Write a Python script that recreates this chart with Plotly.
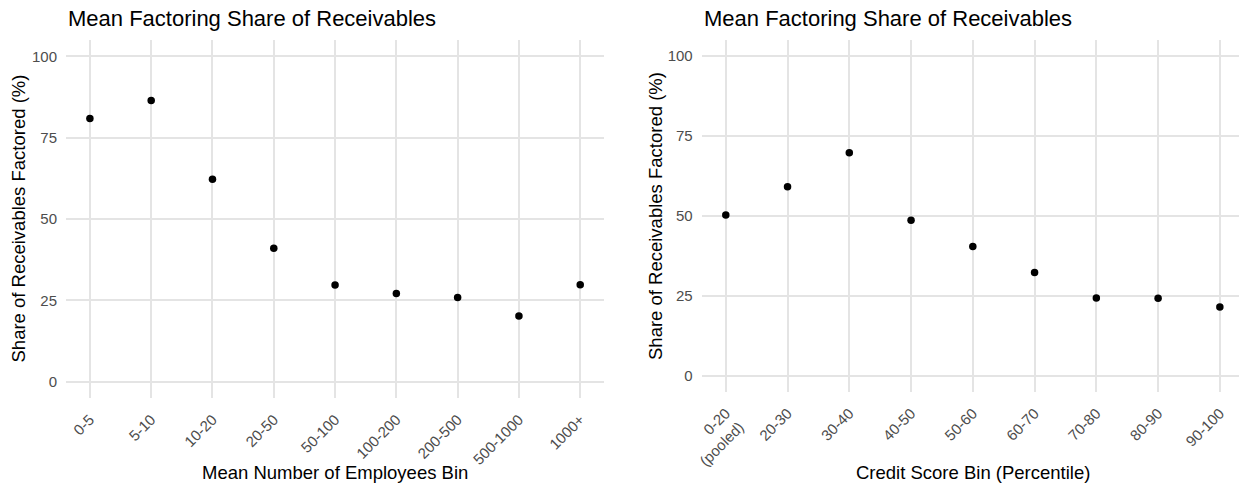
import plotly.graph_objects as go

# left panel: employees bins
emp_bins = ["0-5", "5-10", "10-20", "20-50", "50-100", "100-200", "200-500", "500-1000", "1000+"]
emp_share = [80.9, 86.4, 62.2, 41.0, 29.7, 27.1, 25.9, 20.2, 29.8]

# right panel: credit score bins
credit_bins = ["0-20<br>(pooled)", "20-30", "30-40", "40-50", "50-60", "60-70", "70-80", "80-90", "90-100"]
credit_share = [50.3, 59.1, 69.7, 48.6, 40.4, 32.3, 24.3, 24.2, 21.5]

y_ticks = [0, 25, 50, 75, 100]

W, H = 1239, 485
FONT = "Liberation Sans, Arial, sans-serif"
GRID = "#e4e4e4"

fig = go.Figure()
fig.add_trace(go.Scatter(x=list(range(len(emp_bins))), y=emp_share, mode="markers",
                         marker=dict(color="black", size=7.5), xaxis="x", yaxis="y",
                         showlegend=False))
fig.add_trace(go.Scatter(x=list(range(len(credit_bins))), y=credit_share, mode="markers",
                         marker=dict(color="black", size=7.5), xaxis="x2", yaxis="y2",
                         showlegend=False))

ax_common = dict(showgrid=True, gridcolor=GRID, gridwidth=1.5, zeroline=False,
                 showline=False, ticks="", automargin=False,
                 tickfont=dict(size=15, color="#4d4d4d", family=FONT))

fig.update_layout(
    width=W, height=H,
    margin=dict(l=0, r=0, t=0, b=0),
    paper_bgcolor="white", plot_bgcolor="white",
    font=dict(family=FONT, color="black"),
    xaxis=dict(domain=[66 / W, 603.5 / W], range=[-0.39, 8.38], anchor="y",
               tickmode="array", tickvals=list(range(len(emp_bins))), ticktext=emp_bins,
               tickangle=-45, ticklabelstandoff=9, **ax_common),
    yaxis=dict(domain=[1 - 398 / H, 1 - 40 / H], range=[-5, 105], anchor="x",
               tickvals=y_ticks, ticklabelstandoff=8, **ax_common),
    xaxis2=dict(domain=[701.7 / W, 1.0], range=[-0.39, 8.31], anchor="y2",
                tickmode="array", tickvals=list(range(len(credit_bins))), ticktext=credit_bins,
                tickangle=-45, ticklabelstandoff=9, **ax_common),
    yaxis2=dict(domain=[1 - 391.7 / H, 1 - 40 / H], range=[-5, 105], anchor="x2",
                tickvals=y_ticks, ticklabelstandoff=8, **ax_common),
)

title = "Mean Factoring Share of Receivables"
ann = [
    dict(text=title, x=66 / W, y=1 - 18.5 / H, xanchor="left", yanchor="middle", font=dict(size=22)),
    dict(text=title, x=701.7 / W, y=1 - 18.5 / H, xanchor="left", yanchor="middle", font=dict(size=22)),
    dict(text="Share of Receivables Factored (%)", x=18.5 / W, y=1 - 219 / H, textangle=-90,
         xanchor="center", yanchor="middle", font=dict(size=18.5)),
    dict(text="Share of Receivables Factored (%)", x=655 / W, y=1 - 216 / H, textangle=-90,
         xanchor="center", yanchor="middle", font=dict(size=18.5)),
    dict(text="Mean Number of Employees Bin", x=334.5 / W, y=1 - 472 / H,
         xanchor="center", yanchor="middle", font=dict(size=18.5)),
    dict(text="Credit Score Bin (Percentile)", x=972.5 / W, y=1 - 472 / H,
         xanchor="center", yanchor="middle", font=dict(size=18.5)),
]
for a in ann:
    a.update(xref="paper", yref="paper", showarrow=False)
fig.update_layout(annotations=ann)

fig.write_html("out.html", config={"displayModeBar": False},
               post_script="document.body.style.margin='0px';")
